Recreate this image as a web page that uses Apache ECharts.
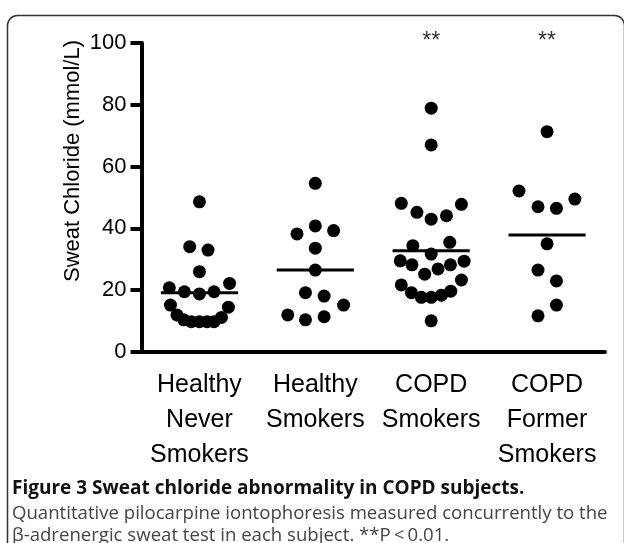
<!DOCTYPE html>
<html>
<head>
<meta charset="utf-8">
<script src="https://cdn.jsdelivr.net/npm/echarts@6/dist/echarts.min.js"></script>
<style>
html,body{margin:0;padding:0;background:#fff;}
#chart{width:624px;height:543px;}
</style>
</head>
<body>
<div id="chart"></div>
<script>
// ---- data ----
var categories = ['Healthy\nNever\nSmokers', 'Healthy\nSmokers', 'COPD\nSmokers', 'COPD\nFormer\nSmokers'];
var yTicks = [0, 20, 40, 60, 80, 100];
// each point: [horizontal jitter within group, sweat chloride mmol/L]
var healthyNever = [[0,48.6],[-0.084,34.1],[0.074,33],[0,26],[-0.26,20.8],[-0.13,19.5],[0,18.8],[0.126,19.5],[0.26,22.2],[-0.25,15.2],[0.25,14.5],[-0.194,12],[-0.136,10.4],[-0.07,9.8],[0,9.8],[0.066,9.8],[0.126,9.8],[0.19,11.2]];
var healthySmokers = [[0,54.6],[-0.158,38.2],[0,40.8],[0.158,39.3],[0,33.6],[0,26.5],[-0.085,19.2],[0.076,18.1],[0.244,15.2],[-0.238,12],[-0.085,10.4],[0.076,11.4]];
var copdSmokers = [[0,78.9],[0,67],[-0.258,48.1],[-0.123,45.2],[0,43],[0.132,44.1],[0.261,47.8],[-0.158,34.4],[0.16,35.5],[0,31.7],[-0.267,29.5],[-0.166,28.2],[-0.056,25.2],[0.059,26.9],[0.166,28.2],[0.284,29.4],[-0.258,21.7],[-0.171,19.2],[-0.085,17.7],[0,17.7],[0.088,18.4],[0.169,19.7],[0.261,23.3],[0,10.1]];
var copdFormer = [[0,71.3],[-0.242,52.1],[-0.078,47],[0.081,46.5],[0.24,49.5],[0,35],[-0.078,26.5],[0.081,23],[0.081,15.2],[-0.078,11.7]];
var groupMeans = [19.2, 26.5, 32.8, 37.9];
var significance = ['', '', '**', '**'];

var groups = [healthyNever, healthySmokers, copdSmokers, copdFormer];

var series = [];
groups.forEach(function (g, i) {
  series.push({
    type: 'scatter', xAxisIndex: 1, yAxisIndex: 0,
    symbol: 'circle', symbolSize: 13,
    itemStyle: { color: '#000', opacity: 1 },
    silent: true,
    data: g.map(function (p) { return [i + 1 + p[0], p[1]]; })
  });
  series.push({
    type: 'line', xAxisIndex: 1, yAxisIndex: 0,
    symbol: 'none', silent: true,
    lineStyle: { color: '#000', width: 3 },
    data: [[i + 1 - 0.333, groupMeans[i]], [i + 1 + 0.333, groupMeans[i]]]
  });
});
series.push({
  type: 'scatter', xAxisIndex: 1, yAxisIndex: 0,
  symbolSize: 0, silent: true,
  data: significance.map(function (s, i) { return s ? [i + 1, 100] : null; }).filter(Boolean),
  label: {
    show: true, position: 'top', distance: 0, offset: [0, 10],
    formatter: '**', color: '#000', fontSize: 23, fontFamily: 'Liberation Sans'
  }
});

var chart = echarts.init(document.getElementById('chart'), null, { renderer: 'canvas' });
chart.setOption({
  backgroundColor: '#fff',
  animation: false,
  grid: { left: 141.5, right: 19, top: 43, bottom: 191, containLabel: false },
  xAxis: [{
    type: 'category', data: categories, boundaryGap: true,
    axisLine: { show: true, onZero: false, lineStyle: { color: '#000', width: 4 } },
    axisTick: { show: false },
    splitLine: { show: false },
    axisLabel: {
      color: '#000', fontSize: 25, fontFamily: 'Liberation Sans', lineHeight: 35,
      margin: 16, interval: 0, align: 'center', verticalAlign: 'top'
    }
  }, {
    type: 'value', min: 0.5, max: 4.5, show: false
  }],
  yAxis: [{
    type: 'value', min: 0, max: 100, interval: 20,
    axisLine: { show: true, lineStyle: { color: '#000', width: 4 } },
    axisTick: { show: true, length: 11, lineStyle: { color: '#000', width: 4 } },
    splitLine: { show: false },
    axisLabel: { color: '#000', fontSize: 22, fontFamily: 'Liberation Sans', margin: 15 }
  }],
  graphic: [
    {
      type: 'rect', left: 5, top: 13,
      shape: { width: 617, height: 560, r: 10 },
      style: { fill: 'none', stroke: '#333', lineWidth: 1.5 }, silent: true
    },
    {
      type: 'text', x: 73, y: 161, rotation: Math.PI / 2,
      style: { text: 'Sweat Chloride (mmol/L)', font: '22px "Liberation Sans"', fill: '#000', align: 'center', verticalAlign: 'middle' }
    },
    {
      type: 'text', x: 12, y: 488.5,
      style: { text: 'Figure 3 Sweat chloride abnormality in COPD subjects.', font: 'bold 19px "Open Sans"', fill: '#111', verticalAlign: 'middle' }
    },
    {
      type: 'text', x: 12, y: 514,
      style: { text: 'Quantitative pilocarpine iontophoresis measured concurrently to the', font: '18.6px "Open Sans"', fill: '#444', verticalAlign: 'middle' }
    },
    {
      type: 'text', x: 12, y: 535.5,
      style: { text: 'β-adrenergic sweat test in each subject. **P\u2009<\u20090.01.', font: '18.6px "Open Sans"', fill: '#444', verticalAlign: 'middle' }
    }
  ],
  series: series
});
</script>
</body>
</html>
